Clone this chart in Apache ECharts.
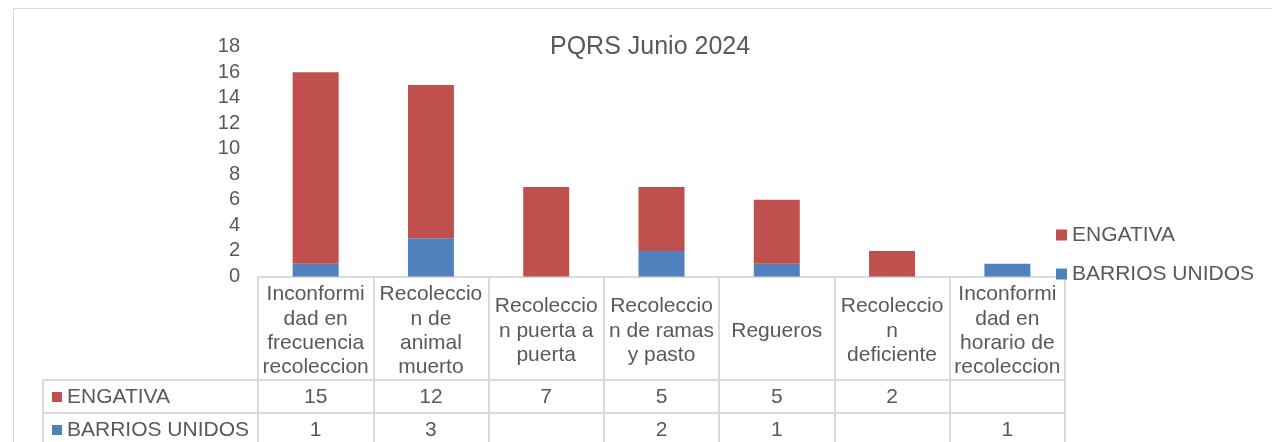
<!DOCTYPE html>
<html>
<head>
<meta charset="utf-8">
<title>PQRS Junio 2024</title>
<script src="https://cdn.jsdelivr.net/npm/echarts@6/dist/echarts.min.js"></script>
<style>
	html,body{margin:0;padding:0;background:#fff;}
	#chart{width:1272px;height:442px;}
</style>
</head>
<body>
<div id="chart"></div>
<script>
// data
var categories = [
	'Inconformi\ndad en\nfrecuencia\nrecoleccion',
	'Recoleccio\nn de\nanimal\nmuerto',
	'Recoleccio\nn puerta a\npuerta',
	'Recoleccio\nn de ramas\ny pasto',
	'Regueros',
	'Recoleccio\nn\ndeficiente',
	'Inconformi\ndad en\nhorario de\nrecoleccion'
];
var seriesNames = ['ENGATIVA', 'BARRIOS UNIDOS'];
var engativa = [15, 12, 7, 5, 5, 2, null];
var barriosUnidos = [1, 3, null, 2, 1, null, 1];
var yMin = 0, yMax = 18, yStep = 2;

;(function(){
	//1. layout / style
	var Gvar = {
		font : '"Liberation Sans", Arial, sans-serif',
		text : '#595959',
		line : '#d9d9d9',
		red : '#C0504D',
		blue : '#4F81BD',
		gridLeft : 258,
		gridRight : 1065,
		gridTop : 46.6,
		axisY : 276.5,
		row1 : 380,
		row2 : 413,
		tableLeft : 43
	};

	var rowValue = function(arr){
		return function(v, i){
			return arr[i] == null ? '' : String(arr[i]);
		};
	};

	var valueAxis = function(arr, margin){
		return {
			type : 'category',
			position : 'bottom',
			data : categories,
			axisLine : {show : false},
			axisTick : {show : false},
			axisLabel : {
				interval : 0,
				margin : margin,
				verticalAlign : 'middle',
				color : Gvar.text,
				fontFamily : Gvar.font,
				fontSize : 21,
				formatter : rowValue(arr)
			}
		};
	};

	var hLine = function(y){
		return {
			type : 'line',
			shape : {x1 : Gvar.tableLeft, y1 : y, x2 : Gvar.gridRight, y2 : y},
			style : {stroke : Gvar.line, lineWidth : 2}
		};
	};

	var rowLabel = function(name, color, y){
		return [
			{type : 'rect', shape : {x : 52, y : y - 5, width : 10, height : 10}, style : {fill : color}},
			{type : 'text', x : 67, y : y, style : {
				text : name, fill : Gvar.text, font : '21px ' + Gvar.font,
				textVerticalAlign : 'middle', verticalAlign : 'middle'
			}}
		];
	};

	var myChart = echarts.init(document.getElementById('chart'));

	var option = {
		animation : false,
		color : [Gvar.red, Gvar.blue],
		title : {
			text : 'PQRS Junio 2024',
			left : 545,
			top : 30,
			textStyle : {color : Gvar.text, fontFamily : Gvar.font, fontSize : 25, fontWeight : 'normal'}
		},
		legend : {
			data : seriesNames,
			orient : 'vertical',
			left : 1051,
			top : 219.5,
			icon : 'rect',
			itemWidth : 11,
			itemHeight : 11,
			itemGap : 18,
			textStyle : {color : Gvar.text, fontFamily : Gvar.font, fontSize : 21, lineHeight : 21}
		},
		grid : {
			left : Gvar.gridLeft,
			right : 1272 - Gvar.gridRight,
			top : Gvar.gridTop,
			bottom : 442 - Gvar.axisY
		},
		xAxis : [
			{
				type : 'category',
				data : categories,
				axisLine : {lineStyle : {color : Gvar.line, width : 2}},
				axisTick : {show : true, length : 170, lineStyle : {color : Gvar.line, width : 2}},
				axisLabel : {
					interval : 0,
					margin : 54.5,
					verticalAlign : 'middle',
					align : 'center',
					color : Gvar.text,
					fontFamily : Gvar.font,
					fontSize : 21,
					lineHeight : 24.3
				}
			},
			valueAxis(engativa, Gvar.row1 - Gvar.axisY + 17.5),
			valueAxis(barriosUnidos, Gvar.row2 - Gvar.axisY + 17.5)
		],
		yAxis : {
			type : 'value',
			min : yMin,
			max : yMax,
			interval : yStep,
			axisLine : {show : false},
			axisTick : {show : false},
			splitLine : {show : false},
			axisLabel : {margin : 18, color : Gvar.text, fontFamily : Gvar.font, fontSize : 20}
		},
		series : [
			{
				name : seriesNames[1],
				type : 'bar',
				stack : 'total',
				barWidth : 46,
				itemStyle : {color : Gvar.blue},
				data : barriosUnidos
			},
			{
				name : seriesNames[0],
				type : 'bar',
				stack : 'total',
				barWidth : 46,
				itemStyle : {color : Gvar.red},
				data : engativa
			}
		],
		graphic : [
			{
				type : 'rect',
				shape : {x : 13.5, y : 8.5, width : 1300, height : 500},
				style : {fill : 'none', stroke : Gvar.line, lineWidth : 1}
			},
			hLine(Gvar.row1),
			hLine(Gvar.row2),
			{
				type : 'line',
				shape : {x1 : Gvar.tableLeft, y1 : Gvar.row1, x2 : Gvar.tableLeft, y2 : 450},
				style : {stroke : Gvar.line, lineWidth : 2}
			}
		].concat(rowLabel(seriesNames[0], Gvar.red, 397), rowLabel(seriesNames[1], Gvar.blue, 430))
	};

	myChart.setOption(option);
})();
</script>
</body>
</html>
